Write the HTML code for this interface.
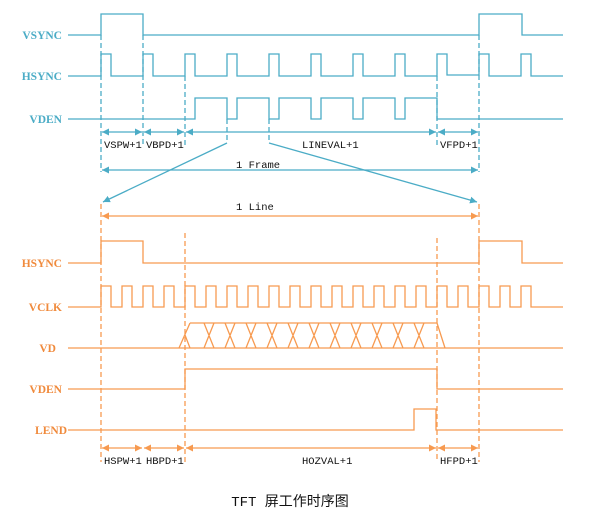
<!DOCTYPE html>
<html><head><meta charset="utf-8"><style>
html,body{margin:0;padding:0;background:#fff}
svg{display:block}
.b{stroke:#4bacc6;fill:none;stroke-width:1.3}
.o{stroke:#f79a50;fill:none;stroke-width:1.3}
.db{stroke:#4bacc6;stroke-width:1.3;stroke-dasharray:5,3;fill:none}
.do{stroke:#f79a50;stroke-width:1.3;stroke-dasharray:5,3;fill:none}
.lb{fill:#4bacc6;font:bold 11.5px "Liberation Serif",serif}
.lo{fill:#f08a3c;font:bold 11.5px "Liberation Serif",serif}
.t{fill:#111;font:10.5px "Liberation Mono",monospace}
</style></head><body>
<svg width="600" height="519" viewBox="0 0 600 519" xmlns="http://www.w3.org/2000/svg">
<defs>
<marker id="ab" viewBox="0 0 10 10" refX="10" refY="5" markerWidth="7" markerHeight="7" markerUnits="userSpaceOnUse" orient="auto-start-reverse"><path d="M0,0L10,5L0,10z" fill="#4bacc6"/></marker>
<marker id="ao" viewBox="0 0 10 10" refX="10" refY="5" markerWidth="7" markerHeight="7" markerUnits="userSpaceOnUse" orient="auto-start-reverse"><path d="M0,0L10,5L0,10z" fill="#f79a50"/></marker>
</defs>
<text class="lb" x="62" y="39" text-anchor="end">VSYNC</text>
<text class="lb" x="62" y="80" text-anchor="end">HSYNC</text>
<text class="lb" x="62" y="123" text-anchor="end">VDEN</text>
<text class="lo" x="62" y="267" text-anchor="end">HSYNC</text>
<text class="lo" x="62" y="311" text-anchor="end">VCLK</text>
<text class="lo" x="56" y="352" text-anchor="end">VD</text>
<text class="lo" x="62" y="393" text-anchor="end">VDEN</text>
<text class="lo" x="67" y="434" text-anchor="end">LEND</text>
<path class="b" d="M68,35H101V14H143V35H479V14H522V35H563"/>
<path class="b" d="M68,76H101V54H111V76H143V54H153V76H185V54H195V76H227V54H237V76H269V54H279V76H311V54H321V76H353V54H363V76H395V54H405V76H437V54H447V75H479V54H489V76H521V54H531V76H563"/>
<path class="b" d="M68,119H195V98H227V119H237V98H269V119H279V98H311V119H321V98H353V119H363V98H395V119H405V98H437V119H563"/>
<path class="db" d="M101,35V172M143,35V145M185,76V145M227,119V143M269,119V143M437,76V145M479,35V172"/>
<g class="b">
<line x1="102" y1="132" x2="142" y2="132" marker-start="url(#ab)" marker-end="url(#ab)"/>
<line x1="144" y1="132" x2="184" y2="132" marker-start="url(#ab)" marker-end="url(#ab)"/>
<line x1="186" y1="132" x2="436" y2="132" marker-start="url(#ab)" marker-end="url(#ab)"/>
<line x1="438" y1="132" x2="478" y2="132" marker-start="url(#ab)" marker-end="url(#ab)"/>
<line x1="102" y1="170" x2="478" y2="170" marker-start="url(#ab)" marker-end="url(#ab)"/>
<line x1="227" y1="143" x2="103" y2="202" marker-end="url(#ab)"/>
<line x1="269" y1="143" x2="477" y2="202" marker-end="url(#ab)"/>
</g>
<text class="t" x="104" y="148">VSPW+1</text>
<text class="t" x="146" y="148">VBPD+1</text>
<text class="t" x="302" y="148">LINEVAL+1</text>
<text class="t" x="440" y="148">VFPD+1</text>
<text class="t" x="236" y="168">1 Frame</text>
<text class="t" x="236" y="210">1 Line</text>
<path class="do" d="M101,204V462M479,204V462M185,233V462M437,238V462"/>
<line class="o" x1="102" y1="216" x2="478" y2="216" marker-start="url(#ao)" marker-end="url(#ao)"/>
<path class="o" d="M68,263H101V241H143V263H479V241H522V263H563"/>
<path class="o" d="M68,307H101V286H111V307H122V286H132V307H143V286H153V307H164V286H174V307H185V286H195V307H206V286H216V307H227V286H237V307H248V286H258V307H269V286H279V307H290V286H300V307H311V286H321V307H332V286H342V307H353V286H363V307H374V286H384V307H395V286H405V307H416V286H426V307H437V286H447V307H458V286H468V307H479V286H489V307H500V286H510V307H521V286H531V307H563"/>
<path class="o" d="M68,348H563M190,323H437M179,348L190,323M185,335L190,348M437,323L445,348
M204,323L214,348M204,348L214,323
M225,323L235,348M225,348L235,323
M246,323L256,348M246,348L256,323
M267,323L277,348M267,348L277,323
M288,323L298,348M288,348L298,323
M309,323L319,348M309,348L319,323
M330,323L340,348M330,348L340,323
M351,323L361,348M351,348L361,323
M372,323L382,348M372,348L382,323
M393,323L403,348M393,348L403,323
M414,323L424,348M414,348L424,323"/>
<path class="o" d="M68,389H185V369H437V389H563"/>
<path class="o" d="M68,430H414V409H436V430H563"/>
<g class="o">
<line x1="102" y1="448" x2="142" y2="448" marker-start="url(#ao)" marker-end="url(#ao)"/>
<line x1="144" y1="448" x2="184" y2="448" marker-start="url(#ao)" marker-end="url(#ao)"/>
<line x1="186" y1="448" x2="436" y2="448" marker-start="url(#ao)" marker-end="url(#ao)"/>
<line x1="438" y1="448" x2="478" y2="448" marker-start="url(#ao)" marker-end="url(#ao)"/>
</g>
<text class="t" x="104" y="464">HSPW+1</text>
<text class="t" x="146" y="464">HBPD+1</text>
<text class="t" x="302" y="464">HOZVAL+1</text>
<text class="t" x="440" y="464">HFPD+1</text>
<text x="290" y="506" text-anchor="middle" style="fill:#111;font:14px 'Liberation Mono','Noto Sans CJK SC',monospace">TFT 屏工作时序图</text>
</svg>
</body></html>
